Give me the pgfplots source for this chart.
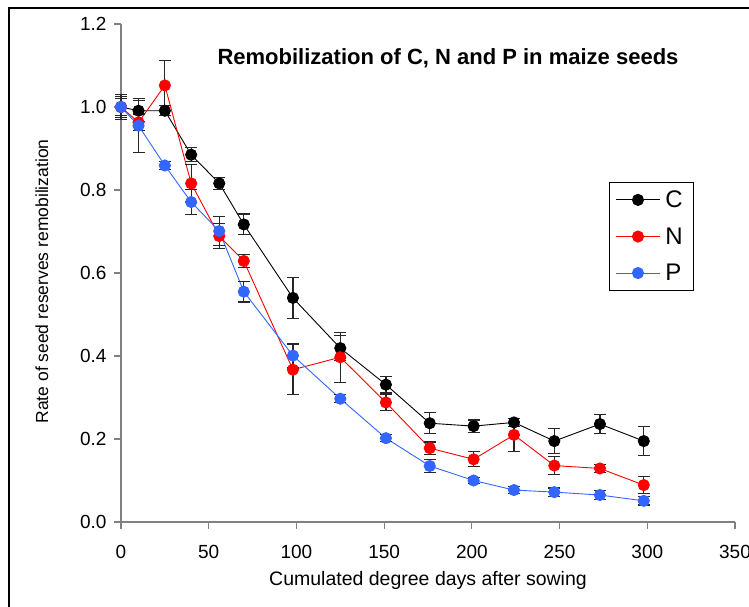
\documentclass[border=0pt]{standalone}
\usepackage{fontspec}
\setmainfont{Liberation Sans}
\usepackage{pgfplots}
\usepackage{pgfplotstable}
\pgfplotsset{compat=1.18}
\definecolor{pblue}{RGB}{51,102,255}
\definecolor{axgray}{RGB}{128,128,128}

\pgfplotstableread{
x y e
0 1.000 0.030
10 0.991 0.025
25 0.991 0.012
40 0.885 0.017
56 0.816 0.015
70 0.717 0.025
98 0.540 0.050
125 0.419 0.030
151 0.331 0.020
176 0.238 0.025
201 0.231 0.015
224 0.240 0.010
247 0.195 0.030
273 0.236 0.023
298 0.195 0.035
}\dataC
\pgfplotstableread{
x y e
0 1.000 0.025
10 0.963 0.020
25 1.052 0.060
40 0.816 0.045
56 0.689 0.030
70 0.629 0.015
98 0.367 0.060
125 0.397 0.060
151 0.288 0.020
176 0.178 0.015
201 0.151 0.018
224 0.210 0.040
247 0.136 0.022
273 0.129 0.010
298 0.089 0.020
}\dataN
\pgfplotstableread{
x y e
0 1.000 0.020
10 0.955 0.065
25 0.859 0.010
40 0.771 0.030
56 0.701 0.035
70 0.555 0.025
98 0.401 0.030
125 0.297 0.010
151 0.202 0.008
176 0.135 0.015
201 0.100 0.008
224 0.077 0.008
247 0.072 0.010
273 0.065 0.010
298 0.051 0.010
}\dataP

\begin{document}
\begin{tikzpicture}
\useasboundingbox (0pt,0pt) rectangle (749pt,606pt);
\draw[line width=1.2pt] (9pt,-10pt) -- (9pt,598pt) -- (770pt,598pt);
\node[font=\fontsize{22}{26}\selectfont\bfseries] at (448pt,548pt) {Remobilization of C, N and P in maize seeds};
\begin{axis}[
  at={(121pt,84pt)}, anchor=south west,
  scale only axis, width=614pt, height=498pt,
  xmin=0, xmax=350, ymin=0, ymax=1.2,
  clip=false,
  axis lines*=left,
  axis line style={axgray, line width=1.6pt},
  tick align=outside,
  major tick length=7pt,
  tick style={axgray, line width=1.2pt},
  xtick={0,50,...,350},
  ytick={0,0.2,0.4,0.6,0.8,1.0,1.2},
  /pgf/number format/assume math mode=true,
  ticklabel style={font=\fontsize{19}{22}\selectfont},
  xticklabel style={yshift=-13pt},
  yticklabel style={xshift=-4pt, /pgf/number format/.cd, fixed, fixed zerofill, precision=1},
  xlabel={Cumulated degree days after sowing},
  ylabel={Rate of seed reserves remobilization},
  xlabel style={font=\fontsize{19.5}{22}\selectfont, at={(axis description cs:0.5,-0.1165)}, anchor=center},
  ylabel style={font=\fontsize{17.5}{20}\selectfont, at={(axis description cs:-0.1287,0.483)}, anchor=center},
  legend style={at={(rel axis cs:0.795,0.683)}, anchor=north west, draw=black, line width=0.8pt,
    font=\fontsize{24}{26}\selectfont, row sep=14.5pt, inner xsep=6pt, inner ysep=6.5pt,
    nodes={inner xsep=5pt}},
  legend cell align=left,
  legend image code/.code={\draw[mark repeat=2, mark phase=2, #1] plot coordinates {(0pt,0pt)(22pt,0pt)(44pt,0pt)};},
  error bars/y dir=both, error bars/y explicit,
  error bars/error bar style={black!85, line width=1.2pt},
  error bars/error mark options={rotate=90, mark size=6pt, line width=1.2pt, black!85},
]
\addplot[black, line width=0.9pt, mark=*, mark size=5.6pt, mark options={solid, fill=black, draw=black}]
  table[x=x, y=y, y error=e] {\dataC};
\addlegendentry{C}
\addplot[red, line width=0.9pt, mark=*, mark size=5.6pt, mark options={solid, fill=red, draw=red}]
  table[x=x, y=y, y error=e] {\dataN};
\addlegendentry{N}
\addplot[pblue, line width=0.9pt, mark=*, mark size=5.6pt, mark options={solid, fill=pblue, draw=pblue}]
  table[x=x, y=y, y error=e] {\dataP};
\addlegendentry{P}
\end{axis}
\end{tikzpicture}
\end{document}
